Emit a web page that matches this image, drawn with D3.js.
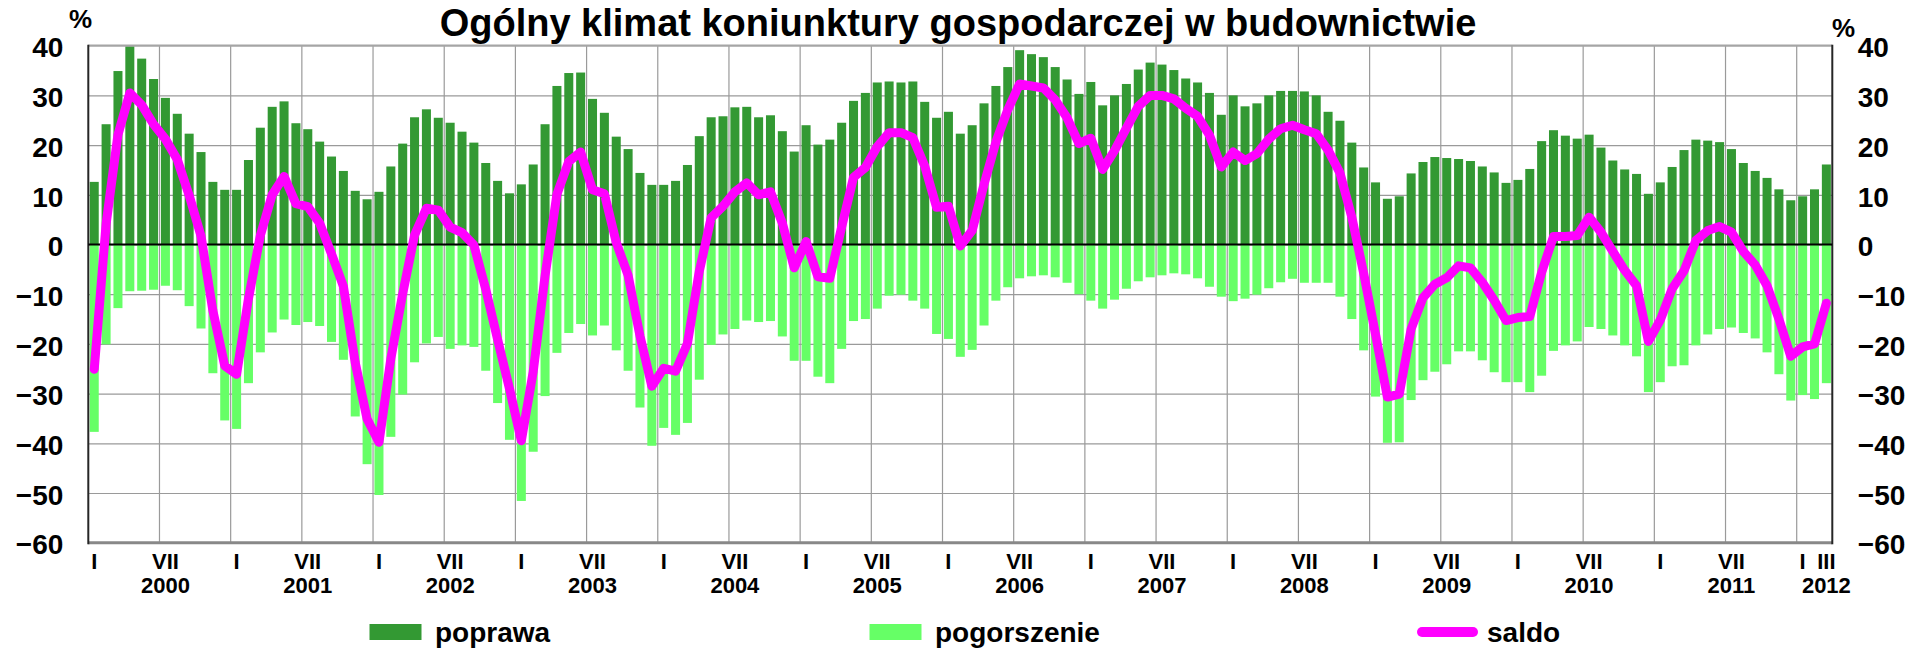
<!DOCTYPE html>
<html>
<head>
<meta charset="utf-8">
<script src="https://cdn.jsdelivr.net/npm/d3@7"></script>
<style>
  body { margin: 0; background: #fff; }
  svg text { font-family: "Liberation Sans", Arial, Helvetica, sans-serif; font-weight: bold; fill: #000; }
</style>
</head>
<body>
<svg id="chart" width="1907" height="649"></svg>
<script>
// Business climate in construction, monthly survey balances, I 2000 – III 2012
const title = "Ogólny klimat koniunktury gospodarczej w budownictwie";
const years = [2000, 2001, 2002, 2003, 2004, 2005, 2006, 2007, 2008, 2009, 2010, 2011, 2012];
const monthRoman = ["I", "II", "III", "IV", "V", "VI", "VII", "VIII", "IX", "X", "XI", "XII"];
const yTicks = [40, 30, 20, 10, 0, -10, -20, -30, -40, -50, -60];
const seriesNames = ["poprawa", "pogorszenie", "saldo"];

// share of firms reporting improvement (%)
const poprawa = [
  12.6, 24.2, 34.9, 39.9, 37.4, 33.3, 29.5, 26.3, 22.3, 18.6, 12.6, 11.0,
  11.0, 17.0, 23.5, 27.7, 28.8, 24.4, 23.2, 20.7, 17.7, 14.8, 10.8, 9.1,
  10.6, 15.7, 20.3, 25.6, 27.2, 25.5, 24.5, 22.7, 20.5, 16.4, 12.8, 10.3,
  12.1, 16.1, 24.2, 31.9, 34.5, 34.6, 29.3, 26.5, 21.7, 19.2, 14.4, 12.0,
  12.0, 12.8, 16.0, 21.8, 25.6, 25.8, 27.6, 27.7, 25.6, 26.0, 22.8, 18.7,
  24.0, 20.1, 21.1, 24.5, 28.9, 30.5, 32.6, 32.8, 32.6, 32.8, 28.7, 25.5,
  26.7, 22.3, 24.0, 28.4, 31.9, 35.7, 39.1, 38.3, 37.7, 35.7, 33.2, 30.3,
  32.7, 28.0, 30.0, 32.3, 35.2, 36.6, 36.2, 35.1, 33.4, 32.6, 30.5, 26.1,
  30.0, 27.8, 28.4, 30.0, 30.9, 30.9, 30.8, 30.0, 26.7, 24.9, 20.5, 15.5,
  12.5, 9.2, 9.7, 14.3, 16.6, 17.6, 17.4, 17.2, 16.8, 15.7, 14.5, 12.4,
  13.0, 15.2, 20.8, 23.0, 21.9, 21.3, 22.1, 19.5, 16.9, 15.1, 14.2, 10.2,
  12.5, 15.6, 19.0, 21.1, 20.9, 20.6, 19.2, 16.4, 14.8, 13.4, 11.1, 8.9,
  9.7, 11.1, 16.1
];

// share of firms reporting deterioration (%), drawn below zero
const pogorszenie = [
  -37.7, -20.1, -12.8, -9.4, -9.3, -9.1, -8.3, -9.2, -12.4, -16.9, -25.9, -35.4,
  -37.1, -27.9, -21.7, -17.7, -15.1, -16.2, -15.6, -16.4, -19.6, -23.2, -34.6, -44.2,
  -50.4, -38.7, -30.2, -23.7, -19.9, -18.6, -21.0, -20.3, -20.6, -25.4, -31.9, -39.3,
  -51.6, -41.7, -30.5, -21.8, -17.8, -16.0, -18.3, -16.3, -21.3, -25.4, -32.8, -40.5,
  -36.9, -38.3, -35.9, -27.2, -20.2, -18.1, -17.0, -15.3, -15.6, -15.4, -18.5, -23.4,
  -23.4, -26.6, -27.9, -21.0, -15.4, -15.0, -12.9, -10.3, -10.1, -11.3, -12.9, -18.0,
  -19.0, -22.6, -21.2, -16.3, -11.3, -8.6, -6.8, -6.4, -6.2, -6.6, -7.7, -10.0,
  -11.3, -12.9, -11.1, -8.9, -7.4, -6.6, -6.2, -5.8, -6.0, -6.8, -8.5, -10.5,
  -11.4, -10.9, -10.1, -8.8, -7.6, -6.9, -7.7, -7.7, -7.7, -10.5, -15.0, -21.3,
  -30.6, -39.9, -39.8, -31.3, -27.3, -25.6, -24.1, -21.5, -21.5, -23.3, -25.7, -27.7,
  -27.7, -29.7, -26.4, -21.4, -20.3, -19.5, -16.6, -17.0, -18.3, -20.3, -22.5, -29.7,
  -27.7, -24.5, -24.3, -20.3, -18.1, -17.0, -16.7, -17.8, -18.9, -21.7, -26.1, -31.4,
  -30.3, -31.1, -27.9
];

// balance (%)
const saldo = [
  -25.1, 4.1, 22.1, 30.5, 28.1, 24.2, 21.2, 17.1, 9.9, 1.7, -13.3, -24.4,
  -26.1, -10.9, 1.8, 10.0, 13.7, 8.2, 7.6, 4.3, -1.9, -8.4, -23.8, -35.1,
  -39.8, -23.0, -9.9, 1.9, 7.3, 6.9, 3.5, 2.4, -0.1, -9.0, -19.1, -29.0,
  -39.5, -25.6, -6.3, 10.1, 16.7, 18.6, 11.0, 10.2, 0.4, -6.2, -18.4, -28.5,
  -24.9, -25.5, -19.9, -5.4, 5.4, 7.7, 10.6, 12.4, 10.0, 10.6, 4.3, -4.7,
  0.6, -6.5, -6.8, 3.5, 13.5, 15.5, 19.7, 22.5, 22.5, 21.5, 15.8, 7.5,
  7.7, -0.3, 2.8, 12.1, 20.6, 27.1, 32.3, 31.9, 31.5, 29.1, 25.5, 20.3,
  21.4, 15.1, 18.9, 23.4, 27.8, 30.0, 30.0, 29.3, 27.4, 25.8, 22.0, 15.6,
  18.6, 16.9, 18.3, 21.2, 23.3, 24.0, 23.1, 22.3, 19.0, 14.4, 5.5, -5.8,
  -18.1, -30.7, -30.1, -17.0, -10.7, -8.0, -6.7, -4.3, -4.7, -7.6, -11.2, -15.3,
  -14.7, -14.5, -5.6, 1.6, 1.6, 1.8, 5.5, 2.5, -1.4, -5.2, -8.3, -19.5,
  -15.2, -8.9, -5.3, 0.8, 2.8, 3.6, 2.5, -1.4, -4.1, -8.3, -15.0, -22.5,
  -20.6, -20.0, -11.8
];

const colors = { poprawa: "#339933", pogorszenie: "#66ff66", saldo: "#ff00ff" };

// month index -> { year, month }
const months = [];
years.forEach(yr => monthRoman.forEach((m, k) => {
  if (months.length < poprawa.length) months.push({ year: yr, month: k });
}));
const n = months.length;

const svg = d3.select("#chart");
const plot = { left: 88.3, right: 1832.3, top: 45.7, bottom: 542.7 };
const pad = 0.24;

const x = d3.scaleBand()
  .domain(d3.range(n))
  .range([plot.left, plot.right])
  .paddingInner(pad)
  .paddingOuter(pad / 2);
const y = d3.scaleLinear().domain([-60, 40]).range([plot.bottom, plot.top]);
const step = x.step();
const bw = x.bandwidth();
const cx = i => x(i) + bw / 2;
const edge = i => x(i) - (pad / 2) * step;

// horizontal grid
svg.append("g")
  .attr("transform", `translate(${plot.left},0)`)
  .call(d3.axisLeft(y).tickValues(yTicks.filter(v => v !== 40 && v !== -60))
    .tickSize(-(plot.right - plot.left)).tickFormat(""))
  .call(g => g.select(".domain").remove())
  .call(g => g.selectAll("line").attr("stroke", "#9a9a9a").attr("stroke-width", 1.2));

// vertical grid every half year
const halfYears = d3.range(6, n, 6);
svg.append("g").selectAll("line").data(halfYears).join("line")
  .attr("x1", i => edge(i)).attr("x2", i => edge(i))
  .attr("y1", plot.top).attr("y2", plot.bottom)
  .attr("stroke", "#9a9a9a").attr("stroke-width", 1.2);

// bars
svg.append("g").selectAll("rect").data(poprawa).join("rect")
  .attr("x", (d, i) => x(i)).attr("width", bw)
  .attr("y", d => y(d)).attr("height", d => y(0) - y(d))
  .attr("fill", colors.poprawa);
svg.append("g").selectAll("rect").data(pogorszenie).join("rect")
  .attr("x", (d, i) => x(i)).attr("width", bw)
  .attr("y", y(0)).attr("height", d => y(d) - y(0))
  .attr("fill", colors.pogorszenie);

// frame
svg.append("line").attr("x1", plot.left).attr("x2", plot.right)
  .attr("y1", y(40)).attr("y2", y(40)).attr("stroke", "#a5a5a5").attr("stroke-width", 2.2);
svg.append("line").attr("x1", plot.left).attr("x2", plot.right)
  .attr("y1", y(-60)).attr("y2", y(-60)).attr("stroke", "#888").attr("stroke-width", 3);
[plot.left, plot.right].forEach(px => svg.append("line")
  .attr("x1", px).attr("x2", px).attr("y1", plot.top - 1).attr("y2", plot.bottom + 1.5)
  .attr("stroke", "#262626").attr("stroke-width", 2));

// zero line
svg.append("line").attr("x1", plot.left).attr("x2", plot.right)
  .attr("y1", y(0)).attr("y2", y(0)).attr("stroke", "#000").attr("stroke-width", 2.2);

// balance line
svg.append("path").datum(saldo)
  .attr("fill", "none").attr("stroke", colors.saldo).attr("stroke-width", 9)
  .attr("stroke-linejoin", "round").attr("stroke-linecap", "round")
  .attr("d", d3.line().x((d, i) => cx(i)).y(d => y(d)));

// y axes (left and right)
const yAxisL = svg.append("g").attr("transform", `translate(${plot.left - 25},0)`)
  .call(d3.axisLeft(y).tickValues(yTicks).tickSize(0).tickPadding(0).tickFormat(d3.format("d")));
const yAxisR = svg.append("g").attr("transform", `translate(${plot.right + 25.5},0)`)
  .call(d3.axisRight(y).tickValues(yTicks).tickSize(0).tickPadding(0).tickFormat(d3.format("d")));
[yAxisL, yAxisR].forEach(g => {
  g.select(".domain").remove();
  g.selectAll("text").attr("font-size", 28).attr("dy", "0.4em")
    .style("font-family", null).attr("font-family", null);
});
svg.selectAll(".tick text").attr("fill", "#000");
svg.append("text").attr("x", 69).attr("y", 28).attr("font-size", 26).text("%");
svg.append("text").attr("x", 1832).attr("y", 37).attr("font-size", 26).text("%");

// x axis: months I and VII, last month, and years
const monthTicks = d3.range(n).filter(i => months[i].month % 6 === 0 || i === n - 1);
const xAxis = svg.append("g").attr("transform", `translate(0,${plot.bottom})`)
  .call(d3.axisBottom(x).tickValues(monthTicks).tickSize(0).tickPadding(0)
    .tickFormat(i => monthRoman[months[i].month]));
xAxis.select(".domain").remove();
xAxis.selectAll("text").attr("font-size", 22).attr("dy", null).attr("y", 26.5);

const yearTicks = years.map(yr => {
  const idx = months.findIndex(m => m.year === yr && m.month === 6);
  return { yr, i: idx >= 0 ? idx : n - 1 };
});
svg.append("g").selectAll("text").data(yearTicks).join("text")
  .attr("x", d => cx(d.i)).attr("y", 593).attr("text-anchor", "middle")
  .attr("font-size", 22).text(d => d.yr);

// title
svg.append("text").attr("x", 958).attr("y", 35.5).attr("text-anchor", "middle")
  .attr("font-size", 38).text(title);

// legend
const legend = svg.append("g");
const legendX = [369.5, 869.5, 1417];
seriesNames.forEach((name, k) => {
  const g = legend.append("g").attr("transform", `translate(${legendX[k]},0)`);
  if (name === "saldo") {
    g.append("line").attr("x1", 5).attr("x2", 56).attr("y1", 632).attr("y2", 632)
      .attr("stroke", colors.saldo).attr("stroke-width", 10).attr("stroke-linecap", "round");
    g.append("text").attr("x", 70).attr("y", 642).attr("font-size", 28).text(name);
  } else {
    g.append("rect").attr("x", 0).attr("y", 624).attr("width", 52).attr("height", 16)
      .attr("fill", colors[name]);
    g.append("text").attr("x", 65.5).attr("y", 642).attr("font-size", 28).text(name);
  }
});
</script>
</body>
</html>
